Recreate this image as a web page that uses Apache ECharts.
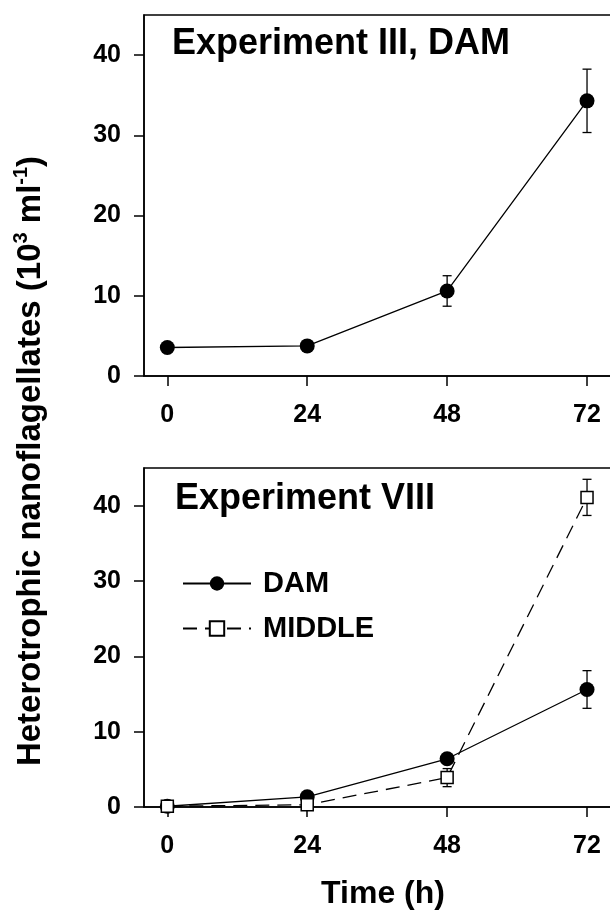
<!DOCTYPE html>
<html>
<head>
<meta charset="utf-8">
<script src="https://cdn.jsdelivr.net/npm/echarts@6/dist/echarts.min.js"></script>
<style>
html,body{margin:0;padding:0;background:#fff;}
#chart{width:610px;height:910px;}
</style>
</head>
<body>
<div id="chart"></div>
<script>
// ---- data ----
var times = [0, 24, 48, 72];
var xTicks = [0, 24, 48, 72];
var yTicks = [0, 10, 20, 30, 40];

// Experiment III, DAM
var exp3Dam = [3.55, 3.75, 10.6, 34.3];
var exp3DamErr = [0, 0, 1.9, 3.95];

// Experiment VIII
var exp8Dam = [0.1, 1.35, 6.4, 15.6];
var exp8DamErr = [0, 0, 0, 2.5];
var exp8Middle = [0.1, 0.3, 3.9, 41.1];
var exp8MiddleErr = [0, 0, 1.2, 2.4];

var panelTitles = ['Experiment III, DAM', 'Experiment VIII'];
var seriesNames = ['DAM', 'MIDDLE'];

// ---- chart ----
var FONT = '"Liberation Sans", Arial, Helvetica, sans-serif';
var chart = echarts.init(document.getElementById('chart'), null, {renderer: 'canvas'});

function pairs(xs, ys) { return xs.map(function (x, i) { return [x, ys[i]]; }); }

function errSeries(name, ys, es, idx) {
  return {
    type: 'custom', name: name, xAxisIndex: idx, yAxisIndex: idx, z: 1, silent: true,
    encode: {x: 0, y: 1},
    data: times.map(function (t, i) { return [t, ys[i], es[i]]; }),
    renderItem: function (params, api) {
      var t = api.value(0), v = api.value(1), e = api.value(2);
      if (!e) return null;
      var hi = api.coord([t, v + e]), lo = api.coord([t, v - e]);
      var w = 4.5, st = {stroke: '#000', lineWidth: 1.3};
      return {type: 'group', children: [
        {type: 'line', shape: {x1: hi[0], y1: hi[1], x2: lo[0], y2: lo[1]}, style: st},
        {type: 'line', shape: {x1: hi[0] - w, y1: hi[1], x2: hi[0] + w, y2: hi[1]}, style: st},
        {type: 'line', shape: {x1: lo[0] - w, y1: lo[1], x2: lo[0] + w, y2: lo[1]}, style: st}
      ]};
    }
  };
}

function xAxis(idx, withName) {
  var a = {
    type: 'value', gridIndex: idx, min: -4, max: 78,
    axisLine: {show: true, onZero: false, lineStyle: {color: '#000', width: 1.5}},
    axisTick: {show: true, inside: false, length: 10, customValues: xTicks, lineStyle: {color: '#000', width: 1.5}},
    axisLabel: {show: true, customValues: xTicks, margin: 27, color: '#000', fontSize: 25, fontWeight: 'bold', fontFamily: FONT},
    splitLine: {show: false}
  };
  if (withName) {
    a.name = 'Time (h)';
    a.nameLocation = 'middle';
    a.nameGap = 71;
    a.nameTextStyle = {color: '#000', fontSize: 32, fontWeight: 'bold', fontFamily: FONT};
  }
  return a;
}
function yAxis(idx) {
  return {
    type: 'value', gridIndex: idx, min: 0, max: 45,
    axisLine: {show: true, onZero: false, lineStyle: {color: '#000', width: 1.5}},
    axisTick: {show: true, inside: false, length: 10, customValues: yTicks, lineStyle: {color: '#000', width: 1.5}},
    axisLabel: {show: true, customValues: yTicks, margin: 23, color: '#000', fontSize: 25, fontWeight: 'bold', fontFamily: FONT},
    splitLine: {show: false}
  };
}

var circleStyle = {color: '#000', borderColor: '#000', borderWidth: 0};
var squareStyle = {color: '#fff', borderColor: '#000', borderWidth: 1.5};

var option = {
  animation: false,
  backgroundColor: '#fff',
  textStyle: {fontFamily: FONT},
  title: [
    {text: panelTitles[0], left: 172, top: 26, padding: 0, textStyle: {fontSize: 36, fontWeight: 'bold', color: '#000', fontFamily: FONT}},
    {text: panelTitles[1], left: 175, top: 481, padding: 0, textStyle: {fontSize: 36, fontWeight: 'bold', color: '#000', fontFamily: FONT}}
  ],
  legend: {
    data: seriesNames,
    orient: 'vertical', left: 177, top: 564,
    itemWidth: 68, itemHeight: 18, itemGap: 16,
    textStyle: {fontSize: 29, fontWeight: 'bold', color: '#000', fontFamily: FONT, padding: [0, 0, 0, 7]},
    selectedMode: false
  },
  grid: [
    {left: 144, top: 15, width: 478, height: 361, outerBoundsMode: 'none', containLabel: false, show: true, borderColor: '#000', borderWidth: 1.5, backgroundColor: 'transparent'},
    {left: 144, top: 468, width: 478, height: 339, outerBoundsMode: 'none', containLabel: false, show: true, borderColor: '#000', borderWidth: 1.5, backgroundColor: 'transparent'}
  ],
  xAxis: [xAxis(0, false), xAxis(1, true)],
  yAxis: [yAxis(0), yAxis(1)],
  graphic: [{
    type: 'text', x: 31, y: 461, rotation: Math.PI / 2,
    style: {
      text: '{m|Heterotrophic nanoflagellates (10}{s|3}{m| ml}{s|-1}{m|)}',
      align: 'center', verticalAlign: 'middle', fill: '#000',
      rich: {
        m: {fontSize: 33, fontWeight: 'bold', fontFamily: FONT, fill: '#000', lineHeight: 40},
        s: {fontSize: 20, fontWeight: 'bold', fontFamily: FONT, fill: '#000', verticalAlign: 'top', lineHeight: 40}
      }
    }
  }],
  series: [
    errSeries('err3', exp3Dam, exp3DamErr, 0),
    {
      name: 'Experiment III DAM', type: 'line', xAxisIndex: 0, yAxisIndex: 0, z: 3,
      data: pairs(times, exp3Dam), symbol: 'circle', symbolSize: 15,
      itemStyle: circleStyle, lineStyle: {color: '#000', width: 1.3}
    },
    errSeries('err8a', exp8Dam, exp8DamErr, 1),
    errSeries('err8b', exp8Middle, exp8MiddleErr, 1),
    {
      name: seriesNames[0], type: 'line', xAxisIndex: 1, yAxisIndex: 1, z: 3,
      data: pairs(times, exp8Dam), symbol: 'circle', symbolSize: 15,
      itemStyle: circleStyle, lineStyle: {color: '#000', width: 1.3}
    },
    {
      name: seriesNames[1], type: 'line', xAxisIndex: 1, yAxisIndex: 1, z: 4,
      data: pairs(times, exp8Middle), symbol: 'rect', symbolSize: 12,
      itemStyle: squareStyle, lineStyle: {color: '#000', width: 1.3, type: [14, 8]}
    }
  ]
};
chart.setOption(option);
</script>
</body>
</html>
